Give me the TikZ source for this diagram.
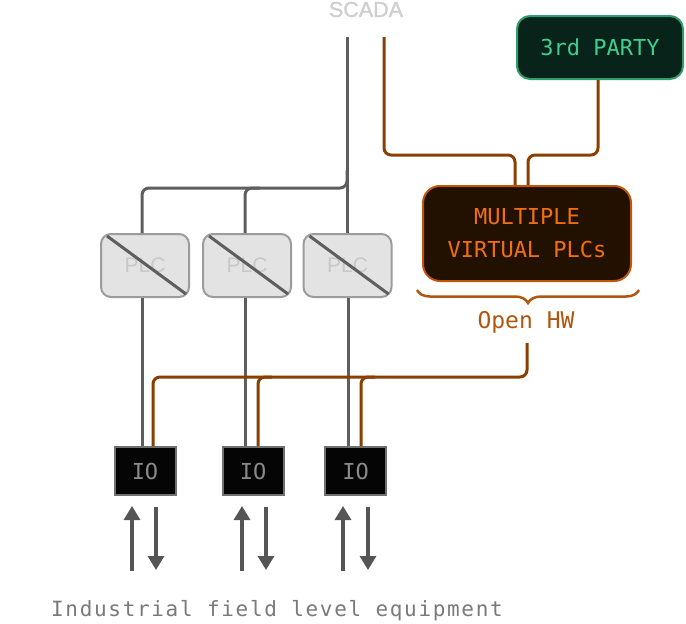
\documentclass[tikz,border=0pt]{standalone}
\usepackage{fontspec}
\usetikzlibrary{arrows.meta,calc,decorations.pathreplacing}
\newfontfamily\monof{DejaVu Sans Mono}
\newfontfamily\monowide[LetterSpace=8]{DejaVu Sans Mono}
\newfontfamily\sansf{Liberation Sans}
\newfontfamily\sansbf[FakeBold=1.5]{Liberation Sans}
\definecolor{glc}{HTML}{5E5E5E}
\definecolor{blc}{HTML}{8A3F00}
\definecolor{plcfill}{HTML}{E3E3E3}
\definecolor{plcdraw}{HTML}{9C9C9C}
\definecolor{plctext}{HTML}{C8C8C8}
\definecolor{scadac}{HTML}{CFCFCF}
\definecolor{tpfill}{HTML}{07231A}
\definecolor{tpdraw}{HTML}{2E9E6E}
\definecolor{tptext}{HTML}{3DD08E}
\definecolor{mvfill}{HTML}{231100}
\definecolor{mvdraw}{HTML}{BF560A}
\definecolor{mvtext}{HTML}{F07010}
\definecolor{hwc}{HTML}{B0560F}
\definecolor{iofill}{HTML}{050505}
\definecolor{iodraw}{HTML}{707070}
\definecolor{iotext}{HTML}{8A8A8A}
\definecolor{arc}{HTML}{555555}
\definecolor{eqc}{HTML}{7A7A7A}
\tikzset{
  gl/.style={draw=glc, line width=3pt, rounded corners=7pt},
  bl/.style={draw=blc, line width=3pt, rounded corners=7pt},
  plcbox/.style={draw=plcdraw, fill=plcfill, line width=2pt, rounded corners=10pt,
    minimum width=88pt, minimum height=63pt, text=plctext, font=\sansf\fontsize{21}{24}\selectfont, inner sep=0pt},
  diag/.style={draw=glc, line width=3pt},
  iobox/.style={draw=iodraw, fill=iofill, line width=2pt, minimum width=61pt, minimum height=48pt,
    text=iotext, font=\monof\fontsize{22}{26}\selectfont, inner sep=0pt},
  arr/.style={draw=arc, line width=3.2pt, -{Triangle[width=16pt,length=14pt]}},
}
\begin{document}
\begin{tikzpicture}[x=1pt,y=-1pt]
\useasboundingbox[fill=white] (0,0) rectangle (686,624);
% nodes
\node[text=scadac, font=\sansbf\fontsize{21.5}{24}\selectfont] (scada) at (366,9.5) {SCADA};
\node[draw=tpdraw, fill=tpfill, line width=2pt, rounded corners=13pt, minimum width=166pt, minimum height=63pt,
  text=tptext, font=\monof\fontsize{22}{26}\selectfont, inner sep=0pt] (third) at (600,47.5) {3rd PARTY};
\node[draw=mvdraw, fill=mvfill, line width=2pt, rounded corners=17pt, minimum width=208pt, minimum height=95pt,
  text=mvtext, font=\monof\fontsize{22}{33}\selectfont, align=center, inner sep=0pt] (mv) at (527,233.5) {MULTIPLE\\VIRTUAL PLCs};
\node[plcbox] (plc1) at (145,265.5) {PLC};
\node[plcbox] (plc2) at (247,265.5) {PLC};
\node[plcbox] (plc3) at (347.5,265.5) {PLC};
\draw[diag] ($(plc1.north west)+(7,3)$) -- ($(plc1.south east)+(-4,-4)$);
\draw[diag] ($(plc2.north west)+(7,3)$) -- ($(plc2.south east)+(-4,-4)$);
\draw[diag] ($(plc3.north west)+(7,3)$) -- ($(plc3.south east)+(-4,-4)$);
\node[iobox] (io1) at (145,471) {IO};
\node[iobox] (io2) at (253,471) {IO};
\node[iobox] (io3) at (355.5,471) {IO};
\draw[draw=hwc, line width=2.5pt, decorate, decoration={brace, amplitude=13pt, aspect=0.5}]
  (639,290) -- (417,290);
\node[text=hwc, font=\monof\fontsize{23}{27}\selectfont] (hw) at (526,322) {Open HW};
\node[text=eqc, font=\monowide\fontsize{21}{25}\selectfont] (eq) at (277,611) {Industrial field level equipment};
% coordinates
\coordinate (sg) at (347,37);
\coordinate (sb) at (384,37);
\coordinate (hwb) at (527,343);
% gray lines (SCADA side)
\draw[gl] (sg) -- (plc3.north -| sg);
\draw[gl] (347,170) -- (347,188) -- (142,188) -- (plc1.north -| 142,0);
\draw[gl] (260,188) -- (245,188) -- (plc2.north -| 245,0);
\draw[gl] (plc1.south -| 142,0) -- (io1.north -| 142,0);
\draw[gl] (plc2.south -| 245,0) -- (io2.north -| 245,0);
\draw[gl] (plc3.south -| 348,0) -- (io3.north -| 348,0);
% brown lines
\draw[bl] (sb) -- (384,155) -- (515,155) -- (mv.north -| 515,0);
\draw[bl] (third.south -| 598,0) -- (598,155) -- (528,155) -- (mv.north -| 528,0);
\draw[bl] (hwb) -- (527,377) -- (153,377) -- (io1.north -| 153,0);
\draw[bl] (272,377) -- (258,377) -- (io2.north -| 258,0);
\draw[bl] (375,377) -- (361,377) -- (io3.north -| 361,0);
% field arrows
\draw[arr] (132,571) -- (132,506);
\draw[arr] (156,507) -- (156,570);
\draw[arr] (242,571) -- (242,506);
\draw[arr] (266,507) -- (266,570);
\draw[arr] (343,571) -- (343,506);
\draw[arr] (368,507) -- (368,570);
\end{tikzpicture}
\end{document}
